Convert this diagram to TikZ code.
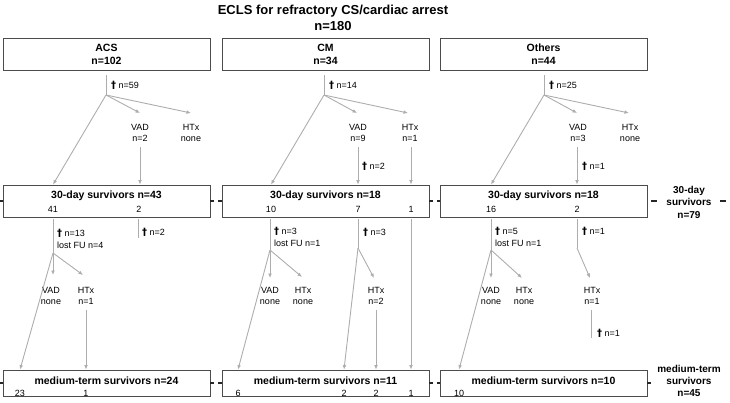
\documentclass[tikz,border=0pt]{standalone}
\usepackage{fontspec}
\setmainfont{Liberation Sans}
\newfontfamily\crossfont{DejaVu Sans}
\usetikzlibrary{arrows.meta}

\newcommand{\died}[1]{{\crossfont\fontsize{10}{10}\selectfont\bfseries †} #1}

\tikzset{
  grp/.style={draw=black!70, line width=0.8pt, minimum width=207pt, inner sep=0pt},
  flow/.style={draw=black!32, line width=0.9pt},
  arr/.style={flow, -{Latex[length=4.5pt,width=3.8pt]}},
  dashrow/.style={draw=black!85, line width=1.1pt, dash pattern=on 4pt off 4pt},
  head/.style={font=\fontsize{10.5}{13}\selectfont\bfseries, align=center, inner sep=0pt},
  small/.style={font=\fontsize{9}{11.5}\selectfont, align=center, inner sep=0pt},
  note/.style={font=\fontsize{9}{12}\selectfont, align=left, inner sep=0pt, anchor=west},
  num/.style={font=\fontsize{9}{11}\selectfont, inner sep=0pt},
}

\begin{document}
\begin{tikzpicture}[x=1pt,y=-1pt]
\useasboundingbox (0,0) rectangle (730,403);

\node[font=\fontsize{13}{16}\selectfont\bfseries, align=center] (title) at (333,18) {ECLS for refractory CS/cardiac arrest\\n=180};

% groups
\node[grp, minimum height=32pt, head] (acs) at (106.5,54) {ACS\\n=102};
\node[grp, minimum height=32pt, head] (cm) at (325.5,54) {CM\\n=34};
\node[grp, minimum height=32pt, head] (oth) at (543.5,54) {Others\\n=44};

% 30-day survivors
\node[grp, minimum height=32pt] (acs30) at (106.5,201) {};
\node[grp, minimum height=32pt] (cm30) at (325.5,201) {};
\node[grp, minimum height=32pt] (oth30) at (543.5,201) {};
\node[head] (acs30t) at (106.5,196) {30-day survivors n=43};
\node[head] (cm30t) at (325.5,196) {30-day survivors n=18};
\node[head] (oth30t) at (543.5,196) {30-day survivors n=18};
\node[num] (acs41) at (53,209) {41};
\node[num] (acs2) at (139,209) {2};
\node[num] (cm10) at (271,209) {10};
\node[num] (cm7) at (358,209) {7};
\node[num] (cm1) at (411,209) {1};
\node[num] (oth16) at (491,209) {16};
\node[num] (oth2) at (577,209) {2};

% medium-term survivors
\node[grp, minimum height=26pt] (acsmt) at (106.5,383) {};
\node[grp, minimum height=26pt] (cmmt) at (325.5,383) {};
\node[grp, minimum height=26pt] (othmt) at (543.5,383) {};
\node[head] (acsmtt) at (106.5,381) {medium-term survivors n=24};
\node[head] (cmmtt) at (325.5,381) {medium-term survivors n=11};
\node[head] (othmtt) at (543.5,381) {medium-term survivors n=10};
\node[num] (acs23) at (20,393) {23};
\node[num] (acs1) at (86,393) {1};
\node[num] (cm6) at (238,393) {6};
\node[num] (cm2a) at (344,393) {2};
\node[num] (cm2b) at (376,393) {2};
\node[num] (cm1b) at (411,393) {1};
\node[num] (oth10) at (459,393) {10};

% totals
\node[head, font=\fontsize{10}{12.5}\selectfont\bfseries] (tot30) at (689,202) {30-day\\survivors\\n=79};
\node[head, font=\fontsize{10}{12}\selectfont\bfseries] (totmt) at (689,381) {medium-term\\survivors\\n=45};

\coordinate (l30) at (0,201);
\coordinate (d30a) at (651,201);
\coordinate (d30b) at (657,201);
\coordinate (r30a) at (720,201);
\coordinate (r30b) at (726,201);
\coordinate (lmt) at (0,383);
\coordinate (rmt) at (651,383);
\draw[dashrow] (l30) -- (acs30.west);
\draw[dashrow] (acs30.east) -- (cm30.west);
\draw[dashrow] (cm30.east) -- (oth30.west);
\draw[dashrow, solid] (d30a) -- (d30b);
\draw[dashrow, solid] (r30a) -- (r30b);
\draw[dashrow] (lmt) -- (acsmt.west);
\draw[dashrow] (acsmt.east) -- (cmmt.west);
\draw[dashrow] (cmmt.east) -- (othmt.west);
\draw[dashrow, solid] (othmt.east) -- (rmt);

% ACS
\coordinate (acsb) at (106,95);
\coordinate (acsvadin) at (140,113);
\coordinate (acshtxin) at (191,113);
\node[note] (acsd1) at (111,85) {\died{n=59}};
\node[small] (acsvad) at (140,133) {VAD\\n=2};
\node[small] (acshtx) at (191,133) {HTx\\none};
\draw[flow, shorten <=5pt] (acs.south -| acsb) -- (acsb);
\draw[arr] (acsb) -- (acsvadin);
\draw[arr] (acsb) -- (acshtxin);
\draw[arr] (acsb) -- (acs30.north -| acs41);
\draw[arr, shorten <=5pt] (acsvad.south) -- (acs30.north -| acsvad);

\coordinate (acsb2) at (53,253);
\coordinate (acsvad2in) at (53,275);
\coordinate (acshtx2in) at (83,275);
\coordinate (acsd3end) at (138,238);
\node[note] (acsd2) at (57,238.5) {\died{n=13}\\lost FU n=4};
\node[note] (acsd3) at (142,232) {\died{n=2}};
\node[small] (acsvad2) at (51,296) {VAD\\none};
\node[small] (acshtx2) at (86,296) {HTx\\n=1};
\draw[flow, shorten <=2pt] (acs30.south -| acs41) -- (acsb2);
\draw[arr] (acsb2) -- (acsvad2in);
\draw[arr] (acsb2) -- (acshtx2in);
\draw[arr] (acsb2) -- (acsmt.north -| acs23);
\draw[arr, shorten <=5pt] (acshtx2.south) -- (acsmt.north -| acshtx2);
\draw[flow, shorten <=2pt] (acs30.south -| acsd3end) -- (acsd3end);

% CM
\coordinate (cmb) at (324,95);
\coordinate (cmvadin) at (357,113);
\coordinate (cmhtxin) at (408,113);
\node[note] (cmd1) at (329,85) {\died{n=14}};
\node[small] (cmvad) at (358,133) {VAD\\n=9};
\node[small] (cmhtx) at (410,133) {HTx\\n=1};
\node[note] (cmd2) at (362,166) {\died{n=2}};
\draw[flow, shorten <=5pt] (cm.south -| cmb) -- (cmb);
\draw[arr] (cmb) -- (cmvadin);
\draw[arr] (cmb) -- (cmhtxin);
\draw[arr] (cmb) -- (cm30.north -| cm10);
\draw[arr, shorten <=5pt] (cmvad.south) -- (cm30.north -| cm7);
\draw[arr, shorten <=5pt] (cmhtx.south -| cm1) -- (cm30.north -| cm1);

\coordinate (cmb2) at (270,250);
\coordinate (cmvad2in) at (270,278);
\coordinate (cmhtx2in) at (302,277);
\coordinate (cmb3) at (358,248);
\coordinate (cmhtx3in) at (374,278);
\node[note] (cmd3) at (274,237) {\died{n=3}\\lost FU n=1};
\node[note] (cmd4) at (363,232) {\died{n=3}};
\node[small] (cmvad2) at (270,296) {VAD\\none};
\node[small] (cmhtx2) at (303,296) {HTx\\none};
\node[small] (cmhtx3) at (376,296) {HTx\\n=2};
\draw[flow, shorten <=2pt] (cm30.south -| cmb2) -- (cmb2);
\draw[arr] (cmb2) -- (cmvad2in);
\draw[arr] (cmb2) -- (cmhtx2in);
\draw[arr] (cmb2) -- (cmmt.north -| cm6);
\draw[flow, shorten <=2pt] (cm30.south -| cmb3) -- (cmb3);
\draw[arr] (cmb3) -- (cmhtx3in);
\draw[arr] (cmb3) -- (cmmt.north -| cm2a);
\draw[arr, shorten <=5pt] (cmhtx3.south) -- (cmmt.north -| cm2b);
\draw[arr, shorten <=2pt] (cm30.south -| cm1) -- (cmmt.north -| cm1b);

% Others
\coordinate (othb) at (544,95);
\coordinate (othvadin) at (577,113);
\coordinate (othhtxin) at (629,113);
\node[note] (othd1) at (549,85) {\died{n=25}};
\node[small] (othvad) at (578,133) {VAD\\n=3};
\node[small] (othhtx) at (630,133) {HTx\\none};
\node[note] (othd2) at (582,166) {\died{n=1}};
\draw[flow, shorten <=5pt] (oth.south -| othb) -- (othb);
\draw[arr] (othb) -- (othvadin);
\draw[arr] (othb) -- (othhtxin);
\draw[arr] (othb) -- (oth30.north -| oth16);
\draw[arr, shorten <=5pt] (othvad.south -| oth2) -- (oth30.north -| oth2);

\coordinate (othb2) at (491,250);
\coordinate (othvad2in) at (491,278);
\coordinate (othhtx2in) at (522,278);
\coordinate (othb3) at (577,248);
\coordinate (othhtx3in) at (590,278);
\coordinate (othd5end) at (591,338);
\node[note] (othd3) at (495,237) {\died{n=5}\\lost FU n=1};
\node[note] (othd4) at (582,231) {\died{n=1}};
\node[small] (othvad2) at (491,296) {VAD\\none};
\node[small] (othhtx2) at (524,296) {HTx\\none};
\node[small] (othhtx3) at (592,296) {HTx\\n=1};
\node[note] (othd5) at (597,333) {\died{n=1}};
\draw[flow, shorten <=2pt] (oth30.south -| othb2) -- (othb2);
\draw[arr] (othb2) -- (othvad2in);
\draw[arr] (othb2) -- (othhtx2in);
\draw[arr] (othb2) -- (othmt.north -| oth10);
\draw[flow, shorten <=2pt] (oth30.south -| othb3) -- (othb3);
\draw[arr] (othb3) -- (othhtx3in);
\draw[flow, shorten <=5pt] (othhtx3.south -| othd5end) -- (othd5end);
\end{tikzpicture}
\end{document}
